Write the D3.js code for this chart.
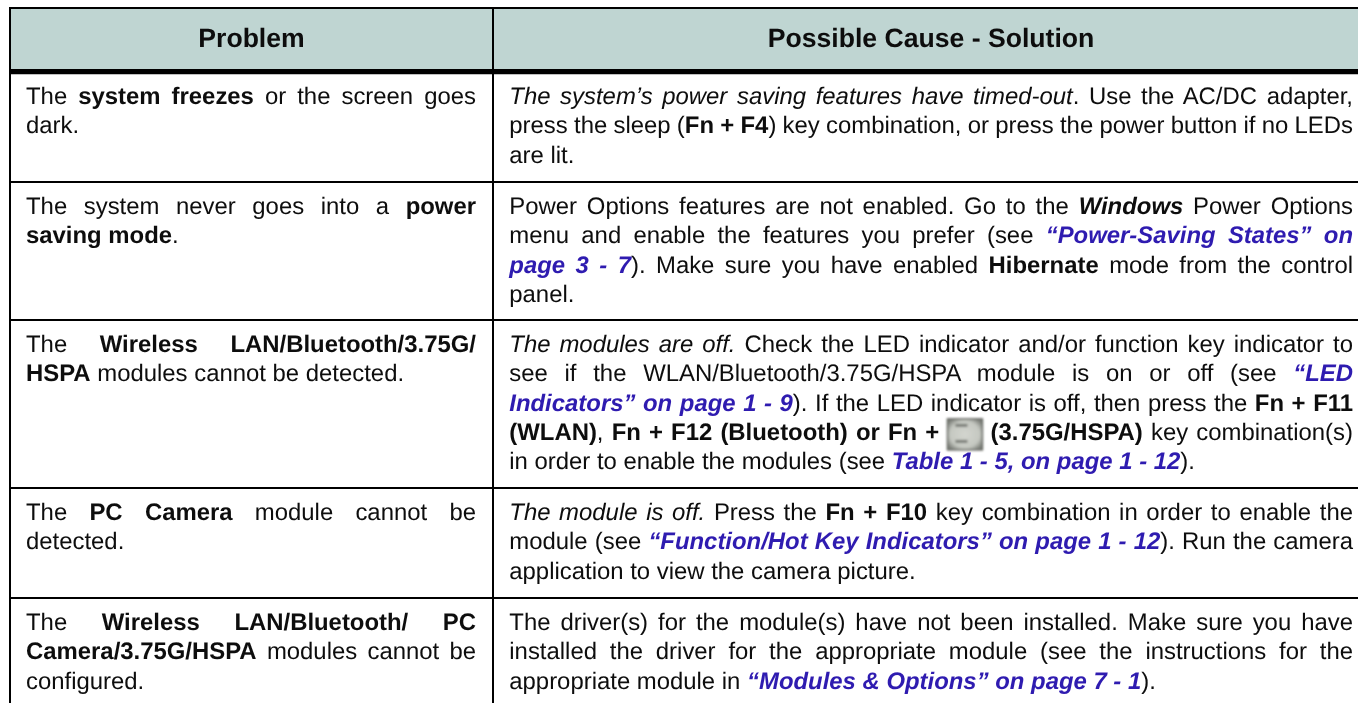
<!DOCTYPE html>
<html lang="en">
  <head>
    <meta charset="utf-8">
    <title>Problem / Possible Cause - Solution</title>
    <style>
    html, body { margin: 0; padding: 0; background: white; overflow: hidden; }
    svg { display: block; }
    text { font-family: "Liberation Sans", Arial, sans-serif; white-space: pre; text-rendering: geometricPrecision; fill: #0c0c0c; }
    .b { font-weight: bold; }
    .i { font-style: italic; }
    .bi { font-weight: bold; font-style: italic; }
    .l { font-weight: bold; font-style: italic; fill: #2f1ab0; }
    </style>
    <script src="https://d3js.org/d3.v7.min.js"></script>
  </head>
  <body>
    <script type="text/javascript">

      // table text, one string per printed line
      var headers = ["Problem", "Possible Cause - Solution"];

      var problems = [
        ["The <b>system freezes</b> or the screen goes",
         "dark."],
        ["The system never goes into a <b>power</b>",
         "<b>saving mode</b>."],
        ["The <b>Wireless LAN/Bluetooth/3.75G/</b>",
         "<b>HSPA</b> modules cannot be detected."],
        ["The <b>PC Camera</b> module cannot be",
         "detected."],
        ["The <b>Wireless LAN/Bluetooth/ PC</b>",
         "<b>Camera/3.75G/HSPA</b> modules cannot be",
         "configured."]
      ];

      var solutions = [
        ["<i>The system’s power saving features have timed-out</i>. Use the AC/DC adapter,",
         "press the sleep (<b>Fn + F4</b>) key combination, or press the power button if no LEDs",
         "are lit."],
        ["Power Options features are not enabled. Go to the <bi>Windows</bi> Power Options",
         "menu and enable the features you prefer (see <l>“Power-Saving States” on</l>",
         "<l>page 3 - 7</l>). Make sure you have enabled <b>Hibernate</b> mode from the control",
         "panel."],
        ["<i>The modules are off.</i> Check the LED indicator and/or function key indicator to",
         "see if the WLAN/Bluetooth/3.75G/HSPA module is on or off (see <l>“LED</l>",
         "<l>Indicators” on page 1 - 9</l>). If the LED indicator is off, then press the <b>Fn + F11</b>",
         "<b>(WLAN)</b>, <b>Fn + F12 (Bluetooth) or Fn + </b><key></key><b> (3.75G/HSPA)</b> key combination(s)",
         "in order to enable the modules (see <l>Table 1 - 5, on page 1 - 12</l>)."],
        ["<i>The module is off.</i> Press the <b>Fn + F10</b> key combination in order to enable the",
         "module (see <l>“Function/Hot Key Indicators” on page 1 - 12</l>). Run the camera",
         "application to view the camera picture."],
        ["The driver(s) for the module(s) have not been installed. Make sure you have",
         "installed the driver for the appropriate module (see the instructions for the",
         "appropriate module in <l>“Modules & Options” on page 7 - 1</l>)."]
      ];

      // Width and height
      var w = 1358;
      var h = 703;
      var fontSize = 23.9;
      var keyWidth = 35;

      var rowIds = d3.range(problems.length);
      var colIds = [0, 1];

      var rowScale = d3.scaleOrdinal().domain(rowIds).range([72, 182, 320, 488, 598]);
      var lineScale = d3.scaleLinear().domain([0, 1]).range([32, 61.3]);
      var colLeft = d3.scaleOrdinal().domain(colIds).range([26, 509.3]);
      var colRight = d3.scaleOrdinal().domain(colIds).range([476, 1353]);
      var colCenter = d3.scaleOrdinal().domain(colIds).range([251.5, 931]);

      var svg = d3.select("body")
          .append("svg")
          .attr("width", w)
          .attr("height", h);

      var defs = svg.append("defs");
      var grad = defs.append("radialGradient").attr("id", "keyFill").attr("r", "0.6");
      grad.append("stop").attr("offset", "0%").attr("stop-color", "#d3d5cf");
      grad.append("stop").attr("offset", "70%").attr("stop-color", "#c5c8c1");
      grad.append("stop").attr("offset", "100%").attr("stop-color", "#7d807a");

      // the source is an upscaled scan, so text is a little soft
      defs.append("filter").attr("id", "soft")
          .append("feGaussianBlur").attr("stdDeviation", 0.35);
      defs.append("filter").attr("id", "softer")
          .append("feGaussianBlur").attr("stdDeviation", 0.8);

// header band and rules
      svg.append("rect")
          .attr("x", 10)
          .attr("y", 8)
          .attr("width", w - 10)
          .attr("height", 62)
          .attr("fill", "#bfd5d2");

      svg.append("line")
          .attr("x1", 9).attr("x2", w)
          .attr("y1", 8).attr("y2", 8)
          .style("stroke", "#000").style("stroke-width", 2);

      svg.append("line")
          .attr("x1", 9).attr("x2", w)
          .attr("y1", 71.7).attr("y2", 71.7)
          .style("stroke", "#000").style("stroke-width", 5.3);

      svg.selectAll("line.row")
          .data(rowIds.slice(1))
          .enter().append("line")
          .attr("class", "row")
          .attr("x1", 9).attr("x2", w)
          .attr("y1", function(d) { return rowScale(d) })
          .attr("y2", function(d) { return rowScale(d) })
          .style("stroke", "#000").style("stroke-width", 2);

      svg.selectAll("line.col")
          .data([10, 493])
          .enter().append("line")
          .attr("class", "col")
          .attr("x1", function(d) { return d })
          .attr("x2", function(d) { return d })
          .attr("y1", 7).attr("y2", h)
          .style("stroke", "#000").style("stroke-width", 2);

      var textLayer = svg.append("g").attr("filter", "url(#soft)");

// header labels
      textLayer.selectAll("text.head")
          .data(headers)
          .enter().append("text")
          .attr("class", "head b")
          .attr("x", function(d, i) { return colCenter(i) })
          .attr("y", 47)
          .attr("text-anchor", "middle")
          .style("font-size", "26.6px")
          .text(function(d) { return d });

// split "a <b>c</b> d" into styled runs
      function parseRuns(str) {
        var runs = [];
        var re = /<(b|i|bi|l|key)>(.*?)<\/\1>|([^<]+)/g;
        var m;
        while ((m = re.exec(str)) !== null) {
          if (m[1]) runs.push({style: m[1], text: m[2]});
          else runs.push({style: "", text: m[3]});
        }
        return runs;
      }

// draw one line, justified unless it is the last of its paragraph
      function drawLine(col, y, str, justify) {
        var g = textLayer.append("g").attr("transform", `translate(${colLeft(col)}, ${y})`);
        var runs = parseRuns(str);
        var total = 0, spaces = 0;

        runs.forEach(function(r) {
          if (r.style == "key") {
            r.width = keyWidth;
            total += keyWidth;
            return;
          }
          r.node = g.append("text")
              .attr("class", r.style)
              .style("font-size", fontSize + "px")
              .text(r.text);
          r.width = r.node.node().getComputedTextLength();
          total += r.width;
          spaces += r.text.split(" ").length - 1;
        });

        var extra = justify && spaces ? (colRight(col) - colLeft(col) - total) / spaces : 0;
        var x = 0;
        runs.forEach(function(r) {
          if (r.style == "key") {
            drawKey(g, x);
          } else {
            r.node.attr("x", x).style("word-spacing", extra + "px");
            r.width += extra * (r.text.split(" ").length - 1);
          }
          x += r.width;
        });
      }

// the small key picture in the (3.75G/HSPA) line
      function drawKey(g, x) {
        var key = g.append("g")
            .attr("transform", `translate(${x}, -21)`)
            .attr("filter", "url(#softer)");
        key.append("rect")
            .attr("width", keyWidth).attr("height", 31)
            .attr("fill", "url(#keyFill)")
            .attr("stroke", "#5f625c").attr("stroke-width", 1.4);
        key.selectAll("rect.smudge")
            .data([5, 21])
            .enter().append("rect")
            .attr("class", "smudge")
            .attr("x", 8).attr("y", function(d) { return d })
            .attr("width", 12).attr("height", 3)
            .attr("fill", "#7b7e78");
      }

      [problems, solutions].forEach(function(column, col) {
        column.forEach(function(lines, row) {
          lines.forEach(function(str, i) {
            drawLine(col, rowScale(row) + lineScale(i), str, i < lines.length - 1);
          });
        });
      });

    </script>
  </body>
</html>
